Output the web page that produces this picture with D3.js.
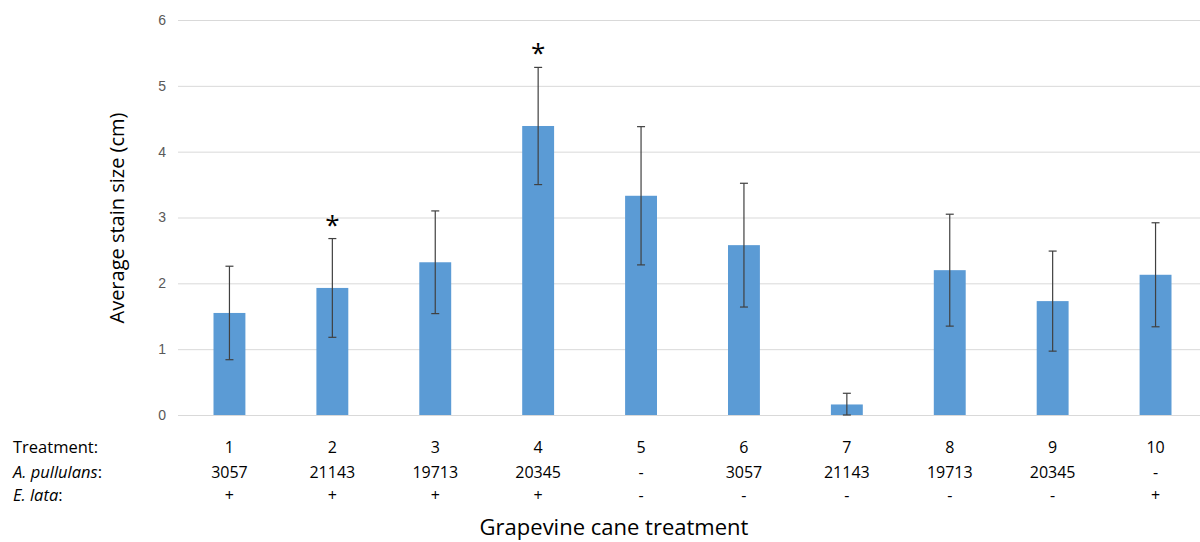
<!DOCTYPE html>
<html>
<head>
<meta charset="utf-8">
<script src="https://cdn.jsdelivr.net/npm/d3@7"></script>
<style>
  body { margin: 0; background: #fff; }
  svg { font-family: "Open Sans", "Noto Sans", sans-serif; }
</style>
</head>
<body>
<div id="chart"></div>
<script>
var treatments = ["1", "2", "3", "4", "5", "6", "7", "8", "9", "10"];
var stainMean = [1.55, 1.93, 2.32, 4.39, 3.33, 2.58, 0.16, 2.2, 1.73, 2.13];
var stainErr = [0.71, 0.75, 0.78, 0.89, 1.05, 0.94, 0.17, 0.85, 0.76, 0.79];
var pullulans = ["3057", "21143", "19713", "20345", "-", "3057", "21143", "19713", "20345", "-"];
var lata = ["+", "+", "+", "+", "-", "-", "-", "-", "-", "+"];
var signif = [false, true, false, true, false, false, false, false, false, false];
var yTicks = [0, 1, 2, 3, 4, 5, 6];

var width = 1200, height = 542;

var svg = d3.select("#chart")
    .append("svg")
    .attr("width", width)
    .attr("height", height);

var x = d3.scaleBand()
    .domain(treatments)
    .range([178, 1207])
    .paddingInner(0.69)
    .paddingOuter(0.345);

var y = d3.scaleLinear()
    .domain([0, 6])
    .range([415, 20]);

// gridlines + tick labels
var yAxis = d3.axisLeft(y)
    .tickValues(yTicks)
    .tickFormat(d3.format("d"))
    .tickSize(-(width - 178))
    .tickPadding(12);

var gy = svg.append("g")
    .attr("transform", "translate(178,0)")
    .call(yAxis);
gy.select(".domain").remove();
gy.selectAll(".tick line").attr("stroke", "#d9d9d9").attr("stroke-width", 1);
gy.selectAll(".tick text")
    .attr("fill", "#595959")
    .style("font-size", "14px");

svg.append("text")
    .attr("transform", "translate(124,218) rotate(-90)")
    .attr("text-anchor", "middle")
    .style("font-size", "20px")
    .attr("fill", "#000")
    .text("Average stain size (cm)");

// bars
svg.append("g")
    .selectAll("rect")
    .data(treatments)
    .enter().append("rect")
    .attr("x", function (d) { return x(d); })
    .attr("width", x.bandwidth())
    .attr("y", function (d, i) { return y(stainMean[i]); })
    .attr("height", function (d, i) { return y(0) - y(stainMean[i]); })
    .attr("fill", "#5b9bd5");

// error bars
var eb = svg.append("g")
    .attr("stroke", "#404040")
    .attr("stroke-width", 1.2);

treatments.forEach(function (d, i) {
    var cx = x(d) + x.bandwidth() / 2;
    var hi = y(stainMean[i] + stainErr[i]),
        lo = y(Math.max(0, stainMean[i] - stainErr[i]));
    eb.append("line").attr("x1", cx).attr("x2", cx).attr("y1", hi).attr("y2", lo);
    eb.append("line").attr("x1", cx - 4).attr("x2", cx + 4).attr("y1", hi).attr("y2", hi);
    eb.append("line").attr("x1", cx - 4).attr("x2", cx + 4).attr("y1", lo).attr("y2", lo);
});

// significance marks
svg.append("g")
    .selectAll("text")
    .data(treatments.filter(function (d, i) { return signif[i]; }))
    .enter().append("text")
    .attr("x", function (d) { return x(d) + x.bandwidth() / 2; })
    .attr("y", function (d) {
        var i = treatments.indexOf(d);
        return y(stainMean[i] + stainErr[i]) - 5;
    })
    .attr("text-anchor", "middle")
    .style("font-size", "26px")
    .attr("fill", "#000")
    .text("*");

// treatment table below axis
var rows = [
    { label: "Treatment:", vals: treatments, y: 453, italic: false },
    { label: "A. pullulans", vals: pullulans, y: 478, italic: true },
    { label: "E. lata", vals: lata, y: 501, italic: true }
];

rows.forEach(function (r) {
    var t = svg.append("text")
        .attr("x", 13)
        .attr("y", r.y)
        .style("font-size", "16.5px")
        .attr("fill", "#000");
    if (r.italic) {
        t.append("tspan").style("font-style", "italic").text(r.label);
        t.append("tspan").text(":");
    } else {
        t.text(r.label);
    }
    svg.append("g")
        .selectAll("text")
        .data(r.vals)
        .enter().append("text")
        .attr("x", function (d, i) { return x(treatments[i]) + x.bandwidth() / 2; })
        .attr("y", r.y)
        .attr("text-anchor", "middle")
        .style("font-size", "16px")
        .attr("fill", "#000")
        .text(function (d) { return d; });
});

svg.append("text")
    .attr("x", 614)
    .attr("y", 535)
    .attr("text-anchor", "middle")
    .style("font-size", "22px")
    .attr("fill", "#000")
    .text("Grapevine cane treatment");
</script>
</body>
</html>
